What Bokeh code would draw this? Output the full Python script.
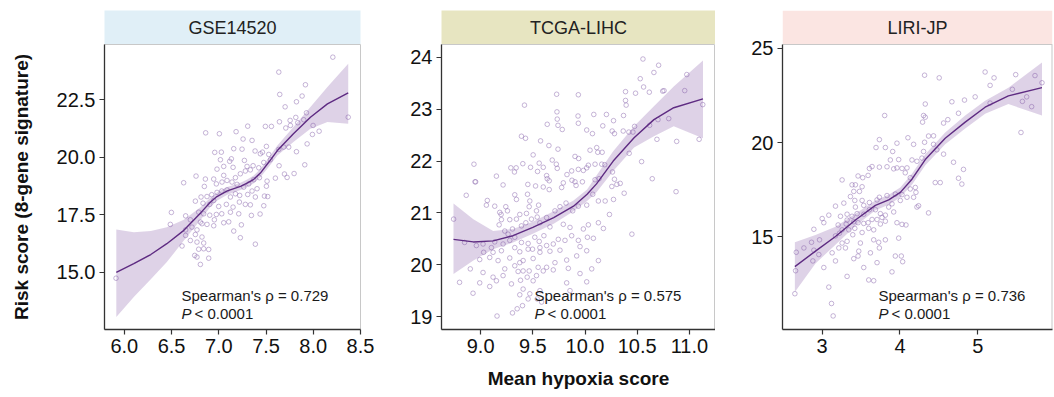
from bokeh.plotting import figure
from bokeh.layouts import row, column
from bokeh.models import FixedTicker, Label, Range1d
from bokeh.core.properties import value
from bokeh.embed import file_html
from bokeh.resources import INLINE

FONT = "Liberation Sans"

# ---------------- data ----------------
cohorts = ["GSE14520", "TCGA-LIHC", "LIRI-JP"]
rho_text = ["Spearman's \u03c1 = 0.729", "Spearman's \u03c1 = 0.575", "Spearman's \u03c1 = 0.736"]
p_text = "< 0.0001"

gse_x = [7.635, 7.917, 7.645, 7.882, 7.822, 7.702, 7.928, 7.815, 7.642, 7.755, 7.836, 7.758, 7.709, 7.899, 7.998,
         8.062, 7.935, 7.991, 7.910, 7.797, 7.695, 7.723, 7.822, 7.740, 7.687, 7.635, 7.599, 7.493, 7.557, 7.306,
         7.183, 7.006, 6.861, 7.257, 7.352, 7.504, 7.462, 7.246, 7.158, 7.027, 6.957, 7.133, 7.115, 7.017, 7.271,
         7.384, 7.440, 7.529, 7.546, 7.638, 7.476, 7.423, 7.363, 7.299, 7.281, 7.334, 7.151, 7.052, 6.981, 7.228,
         7.176, 7.052, 6.946, 6.858, 6.759, 6.628, 6.847, 6.974, 7.034, 7.087, 7.140, 7.193, 7.264, 7.317, 7.370,
         7.430, 7.511, 7.504, 7.405, 7.352, 7.306, 7.221, 7.176, 7.123, 7.087, 7.031, 6.981, 6.925, 6.875, 6.812,
         6.752, 6.833, 6.904, 6.946, 6.999, 7.080, 7.151, 7.218, 7.281, 7.334, 7.387, 7.483, 7.518, 7.476, 7.211,
         7.123, 7.031, 6.974, 6.904, 6.840, 6.787, 6.649, 6.498, 6.699, 6.805, 6.953, 7.052, 7.105, 7.239, 7.345,
         7.437, 6.946, 6.875, 6.822, 6.769, 6.716, 6.649, 6.487, 6.649, 6.752, 6.822, 6.840, 6.769, 6.699, 6.611,
         6.840, 6.893, 6.787, 6.745, 6.769, 6.893, 7.158, 7.228, 7.387, 8.207, 8.370, 5.912, 6.805]
gse_y = [23.71, 23.16, 22.74, 22.67, 22.42, 22.20, 21.94, 21.74, 21.55, 21.61, 21.51, 21.39, 21.28, 21.64, 21.39,
         21.14, 20.59, 21.00, 19.68, 19.30, 19.28, 19.13, 20.25, 20.45, 20.45, 20.35, 19.10, 21.35, 21.35, 21.36,
         21.12, 21.03, 21.07, 20.80, 20.74, 20.48, 20.23, 20.36, 20.38, 20.23, 20.22, 19.94, 19.83, 19.90, 19.87,
         20.28, 20.16, 20.13, 19.90, 19.64, 19.78, 19.55, 19.64, 19.61, 19.41, 19.46, 19.57, 19.61, 19.49, 19.29,
         19.12, 19.22, 19.06, 19.06, 19.19, 18.90, 18.74, 18.85, 18.93, 19.00, 18.93, 18.83, 18.71, 18.85, 19.03,
         19.12, 18.97, 18.75, 18.64, 18.54, 18.39, 18.35, 18.42, 18.28, 18.59, 18.54, 18.48, 18.38, 18.30, 18.28,
         18.10, 18.01, 17.96, 18.13, 17.87, 17.96, 17.84, 18.06, 17.96, 17.94, 18.28, 18.32, 18.30, 17.90, 17.55,
         17.62, 17.55, 17.52, 17.49, 17.55, 17.62, 17.46, 17.61, 17.29, 17.19, 17.29, 17.16, 17.20, 17.07, 17.48,
         17.54, 17.03, 17.09, 17.12, 16.85, 16.97, 16.85, 17.09, 16.61, 16.65, 16.54, 16.28, 16.32, 16.39, 16.15,
         16.03, 16.00, 16.01, 15.74, 15.67, 15.62, 16.80, 16.51, 16.23, 24.36, 21.75, 14.75, 15.35]

tcga_x = [10.555, 10.705, 10.660, 10.529, 10.975, 10.561, 10.616, 10.484, 10.388, 10.744, 10.757, 10.955, 10.388,
          10.394, 11.128, 9.728, 9.936, 9.420, 9.731, 9.734, 9.741, 9.782, 9.638, 9.933, 9.936, 10.084, 10.205,
          10.369, 10.273, 10.170, 10.016, 10.071, 10.260, 10.282, 10.366, 10.420, 10.459, 10.475, 10.619, 10.699,
          10.802, 9.391, 9.430, 9.574, 9.654, 9.741, 9.503, 9.404, 9.561, 9.600, 9.478, 9.686, 9.725, 9.734, 9.289,
          9.340, 9.324, 9.545, 8.936, 8.946, 9.151, 9.215, 9.904, 9.939, 10.048, 10.112, 10.164, 10.122, 10.032,
          10.016, 9.984, 10.096, 10.160, 10.189, 9.827, 9.872, 9.936, 9.632, 9.638, 9.657, 9.792, 9.875, 9.904,
          9.914, 9.975, 10.096, 10.135, 10.263, 10.282, 10.305, 10.257, 10.337, 10.423, 10.542, 10.689, 10.878,
          11.093, 10.644, 9.452, 9.526, 9.600, 9.657, 9.776,
          8.862, 8.952, 9.064, 9.055, 9.135, 9.241, 9.257, 9.183, 9.196, 9.327, 9.343, 9.449, 9.471, 9.465, 9.555,
          9.535, 9.439, 9.375, 9.343, 9.279, 9.199, 9.177, 9.231, 9.263, 9.305, 9.391, 9.433, 9.487, 9.542, 9.568,
          9.632, 9.712, 9.760, 9.818, 9.882, 9.936, 10.016, 10.074, 10.128, 10.193, 10.273, 10.375, 10.872, 10.234,
          10.032, 10.128, 9.984, 9.856, 9.792, 9.664, 9.606, 9.561, 9.519, 9.455, 9.391, 9.327, 9.279, 9.215, 9.135,
          9.103, 9.023, 8.959, 8.846, 8.741, 9.029, 9.087, 9.119, 9.199, 9.279, 9.327, 9.375, 9.455, 9.497, 9.568,
          9.632, 9.696, 9.744, 9.808, 9.872, 9.936, 9.952, 10.023, 10.080, 10.176, 10.449, 9.760, 9.664, 9.568,
          9.503, 9.407, 9.375, 9.327, 9.231, 9.167, 8.991, 8.901, 9.023, 9.119, 9.215, 9.359, 9.407, 9.465, 9.551,
          9.600, 9.632, 9.696, 9.535, 9.503, 9.446, 9.382, 9.295, 9.151, 9.087, 8.991, 8.798, 8.927, 9.824, 9.920,
          10.016, 10.128, 10.064, 9.952, 9.840, 9.712, 9.568, 9.407, 9.455, 9.375, 9.401, 9.350, 9.305, 9.157,
          9.471, 9.542, 9.584, 9.824, 10.016, 9.856]
tcga_y = [23.97, 23.85, 23.71, 23.59, 23.67, 23.43, 23.33, 23.31, 23.34, 23.35, 23.36, 23.36, 23.17, 23.08, 23.09,
          23.29, 23.28, 23.08, 22.95, 22.81, 22.69, 22.61, 22.71, 22.87, 22.73, 22.90, 22.90, 22.88, 22.78, 22.68,
          22.60, 22.53, 22.58, 22.53, 22.58, 22.56, 22.56, 22.67, 22.69, 22.80, 22.82, 22.48, 22.44, 22.39, 22.30,
          22.23, 22.12, 21.95, 21.96, 21.88, 21.88, 22.02, 21.94, 21.86, 21.87, 21.87, 21.79, 21.80, 21.94, 21.60,
          21.71, 21.54, 22.09, 22.05, 22.21, 22.26, 22.17, 22.17, 21.92, 21.87, 21.82, 21.94, 21.94, 21.93, 21.74,
          21.81, 21.84, 21.72, 21.66, 21.62, 21.58, 21.63, 21.60, 21.53, 21.60, 21.64, 21.66, 21.79, 21.65, 21.55,
          21.51, 21.57, 22.15, 21.99, 22.42, 22.38, 22.42, 21.66, 21.55, 21.52, 21.50, 21.45, 21.49,
          21.34, 21.60, 21.24, 21.15, 21.13, 21.12, 21.04, 21.01, 20.97, 21.35, 21.26, 21.36, 21.23, 21.12, 21.15,
          21.04, 20.99, 20.97, 20.88, 20.87, 20.87, 20.77, 20.65, 20.59, 20.69, 20.75, 20.81, 20.88, 20.92, 20.81,
          20.91, 21.04, 21.12, 21.19, 21.04, 21.13, 21.15, 21.36, 21.23, 21.23, 21.26, 21.38, 21.41, 20.97, 20.77,
          20.81, 20.69, 20.72, 20.78, 20.73, 20.56, 20.45, 20.53, 20.41, 20.43, 20.53, 20.47, 20.40, 20.44, 20.33,
          20.40, 20.37, 20.43, 20.88, 20.24, 20.14, 20.24, 20.27, 20.13, 20.33, 20.25, 20.30, 20.30, 20.33, 20.37,
          20.40, 20.49, 20.47, 20.56, 20.47, 20.35, 20.53, 20.51, 20.70, 20.59, 20.28, 20.26, 20.24, 20.12, 20.08,
          20.04, 19.98, 19.92, 20.08, 20.10, 19.92, 19.85, 19.76, 19.79, 19.87, 19.88, 19.88, 19.95, 19.88, 19.95,
          19.90, 19.79, 19.69, 19.76, 19.70, 19.63, 19.69, 19.58, 19.65, 19.66, 19.45, 20.09, 20.17, 20.27, 20.08,
          19.92, 19.83, 19.93, 20.04, 19.50, 19.53, 19.34, 19.42, 19.21, 19.15, 19.07, 19.01, 19.44, 19.34, 19.28,
          19.65, 19.67, 19.50]

liri_x = [4.316, 4.504, 5.094, 5.209, 5.487, 5.735, 5.825, 5.158, 5.444, 5.628, 5.573, 5.692, 5.555, 4.966, 4.829,
          4.667, 5.158, 4.325, 4.303, 4.325, 4.290, 4.560, 4.615, 4.752, 3.803, 4.102, 4.367, 4.431, 4.175, 4.316,
          4.431, 4.474, 4.560, 4.688, 4.816, 4.752, 4.795, 4.453, 4.517, 4.303, 4.282, 4.218, 4.154, 4.090, 4.026,
          4.068, 4.132, 4.197, 4.205, 4.175, 4.218, 4.239, 4.367, 3.735, 3.692, 3.812, 3.906, 3.961, 3.983, 3.876,
          3.919, 3.961, 3.833, 3.735, 3.641, 3.607, 3.590, 3.521, 3.461, 3.427, 3.513, 3.406, 3.363, 3.419, 3.513,
          3.534, 3.607, 3.705, 3.735, 3.833, 3.940, 4.026, 4.132, 4.090, 4.004, 3.897, 3.855, 3.919, 3.812, 3.748,
          3.684, 3.607, 3.534, 3.449, 3.384, 3.320, 3.235, 3.171, 3.278, 3.256, 3.384, 3.479, 3.427, 3.461, 3.534,
          3.590, 3.641, 3.705, 3.769, 3.812, 3.961, 4.026, 4.077, 3.983, 3.748, 3.662, 3.598, 3.513, 3.419, 3.342,
          3.308, 3.205, 3.222, 3.320, 3.256, 3.299, 3.393, 3.491, 3.470, 3.461, 3.406, 3.534, 3.620, 3.662, 3.726,
          3.812, 3.735, 3.705, 3.940, 4.017, 4.034, 3.897, 3.598, 3.662, 3.320, 3.085, 3.120, 3.141, 2.649, 2.658,
          2.667, 2.765, 2.863, 2.966, 2.893, 2.957, 2.880, 3.021, 3.171, 3.128, 3.214, 3.171, 3.256, 3.406, 3.021,
          3.000, 2.893, 3.085, 3.320]
liri_y = [23.58, 23.44, 23.75, 23.44, 23.61, 23.56, 23.18, 23.04, 22.83, 22.43, 22.19, 21.91, 20.54, 22.43, 22.26,
          22.17, 22.10, 22.05, 21.44, 21.35, 21.09, 21.04, 21.22, 21.56, 21.44, 20.26, 20.35, 20.36, 19.91, 20.02,
          19.91, 19.62, 19.39, 18.96, 18.58, 18.11, 17.80, 17.88, 17.88, 19.53, 19.18, 19.01, 19.08, 18.66, 18.63,
          18.40, 18.14, 17.62, 17.36, 17.10, 16.58, 16.65, 16.27, 20.16, 19.74, 19.74, 19.53, 19.97, 19.10, 19.08,
          18.61, 18.66, 18.72, 18.70, 18.73, 18.63, 18.26, 18.14, 18.23, 17.76, 17.66, 17.41, 17.14, 16.93, 16.93,
          16.67, 16.82, 16.96, 17.10, 17.19, 17.27, 17.24, 17.54, 17.10, 16.93, 16.75, 16.58, 16.32, 16.15, 16.23,
          16.44, 16.44, 16.20, 16.23, 16.09, 16.20, 16.09, 16.63, 16.79, 18.02, 17.76, 17.41, 16.58, 15.75, 15.71,
          15.75, 15.92, 15.92, 16.03, 15.83, 15.75, 15.66, 15.63, 14.93, 15.68, 15.37, 15.45, 15.23, 15.45, 15.37,
          15.68, 15.63, 15.19, 14.76, 14.67, 14.41, 15.11, 14.67, 14.24, 13.98, 13.84, 13.37, 14.15, 14.84, 14.71,
          14.84, 14.41, 13.63, 13.98, 13.98, 13.68, 13.14, 12.71, 12.67, 12.90, 12.33, 11.46, 10.80, 11.98, 13.20,
          14.18, 14.41, 14.71, 14.84, 14.29, 14.06, 13.72, 13.37, 13.72, 14.15, 14.41, 15.05, 15.37, 15.80, 15.75,
          15.97, 15.40, 16.15, 15.89]

# fitted smooth (loess) with confidence band
gse_cx = [5.915, 6.10, 6.28, 6.45, 6.63, 6.81, 6.91, 6.98, 7.09, 7.23, 7.30, 7.37, 7.44, 7.53, 7.62, 7.79, 7.97, 8.15, 8.37]
gse_fit = [15.00, 15.38, 15.78, 16.25, 16.83, 17.60, 18.05, 18.30, 18.55, 18.74, 18.88, 19.05, 19.32, 19.80, 20.30, 21.03, 21.75, 22.33, 22.81]
gse_lo = [13.06, 13.93, 14.70, 15.45, 16.39, 17.30, 17.85, 18.12, 18.38, 18.58, 18.72, 18.88, 19.14, 19.60, 20.08, 20.67, 21.25, 21.54, 21.46]
gse_hi = [16.87, 16.75, 16.80, 16.97, 17.29, 17.85, 18.25, 18.48, 18.72, 18.90, 19.04, 19.22, 19.50, 20.00, 20.52, 21.32, 22.19, 23.06, 24.07]

tcga_cx = [8.74, 8.93, 9.12, 9.31, 9.50, 9.70, 9.89, 10.02, 10.11, 10.27, 10.47, 10.66, 10.85, 11.13]
tcga_fit = [20.49, 20.44, 20.46, 20.56, 20.72, 20.91, 21.13, 21.36, 21.56, 22.00, 22.45, 22.80, 23.03, 23.20]
tcga_lo = [19.82, 20.08, 20.30, 20.43, 20.60, 20.79, 21.03, 21.23, 21.40, 21.81, 22.26, 22.48, 22.67, 22.44]
tcga_hi = [21.18, 20.88, 20.65, 20.69, 20.83, 21.03, 21.24, 21.45, 21.72, 22.19, 22.67, 23.06, 23.44, 23.94]

liri_cx = [2.649, 2.914, 3.171, 3.427, 3.684, 3.855, 4.004, 4.154, 4.325, 4.581, 4.838, 5.094, 5.393, 5.825]
liri_fit = [13.42, 14.24, 15.02, 15.89, 16.67, 16.96, 17.36, 18.06, 19.10, 20.23, 21.09, 21.88, 22.48, 22.92]
liri_lo = [12.07, 13.59, 14.58, 15.57, 16.41, 16.70, 17.10, 17.76, 18.80, 19.91, 20.75, 21.53, 22.05, 21.44]
liri_hi = [14.71, 15.10, 15.54, 16.23, 16.93, 17.24, 17.62, 18.35, 19.39, 20.54, 21.44, 22.22, 22.92, 24.26]

gse_xticks = [6.0, 6.5, 7.0, 7.5, 8.0, 8.5]
gse_xlabels = ["6.0", "6.5", "7.0", "7.5", "8.0", "8.5"]
gse_yticks = [15.0, 17.5, 20.0, 22.5]
gse_ylabels = ["15.0", "17.5", "20.0", "22.5"]
tcga_xticks = [9.0, 9.5, 10.0, 10.5, 11.0]
tcga_xlabels = ["9.0", "9.5", "10.0", "10.5", "11.0"]
tcga_yticks = [19, 20, 21, 22, 23, 24]
tcga_ylabels = ["19", "20", "21", "22", "23", "24"]
liri_xticks = [3, 4, 5]
liri_xlabels = ["3", "4", "5"]
liri_yticks = [15, 20, 25]
liri_ylabels = ["15", "20", "25"]

y_title = "Risk score (8-gene signature)"
x_title = "Mean hypoxia score"

# ---------------- styling / layout ----------------
strip_colors = ["#e0eff7", "#e7e5c1", "#fbe5e2"]
PT_COLOR = "#8e6bb0"
LINE_COLOR = "#5e2b82"
BAND_COLOR = "#7b4a9e"
AX_COLOR = "#333333"
BORDER_COLOR = "#c8c8c8"
PLOT_H = 285
STRIP_H = 34
TOP = 10
BOTTOM = 68


def style_axes(p, xt, xl, yt, yl):
    for ax, ticks, labels in ((p.xaxis[0], xt, xl), (p.yaxis[0], yt, yl)):
        ax.ticker = FixedTicker(ticks=ticks)
        ax.major_label_overrides = {t: s for t, s in zip(ticks, labels)}
        ax.axis_line_color = AX_COLOR
        ax.axis_line_width = 1.3
        ax.major_tick_line_color = AX_COLOR
        ax.major_tick_line_width = 1.2
        ax.major_tick_in = 0
        ax.major_tick_out = 5
        ax.minor_tick_line_color = None
        ax.major_label_standoff = 4
        ax.major_label_text_font = FONT
        ax.major_label_text_font_size = "20px"
        ax.major_label_text_color = "#111111"
        ax.axis_label_text_font = FONT
        ax.axis_label_text_font_size = "19px"
        ax.axis_label_text_font_style = "bold"
        ax.axis_label_text_color = "#111111"


def draw_data(p, xs, ys, cx, cfit, clo, chi):
    p.scatter(xs, ys, marker="circle", size=4.6, fill_color=None,
              line_color=PT_COLOR, line_alpha=0.5, line_width=1)
    p.varea(x=cx, y1=clo, y2=chi, fill_color=BAND_COLOR, fill_alpha=0.25)
    p.line(cx, cfit, line_color=LINE_COLOR, line_width=1.4)


def add_annotation(p, i, xr, yr, fw, ann_px):
    x0, x1 = xr
    y0, y1 = yr
    ax_ = x0 + ann_px / fw * (x1 - x0)
    y_line1 = y0 + 34 / PLOT_H * (y1 - y0)
    y_line2 = y0 + 16 / PLOT_H * (y1 - y0)
    p.add_layout(Label(x=ax_, y=y_line1, text=rho_text[i], text_font=FONT,
                       text_font_size="15px", text_baseline="alphabetic",
                       text_color="#1a1a1a"))
    p.add_layout(Label(x=ax_, y=y_line2, text="P", text_font=FONT,
                       text_font_size="15px", text_font_style="italic",
                       text_baseline="alphabetic", text_color="#1a1a1a"))
    p.add_layout(Label(x=ax_, y=y_line2, x_offset=13, text=p_text, text_font=FONT,
                       text_font_size="15px", text_baseline="alphabetic",
                       text_color="#1a1a1a"))


def make_panel(i, xs, ys, cx, cfit, clo, chi, xr, yr, xt, xl, yt, yl,
               left, fw, right, ann_px, ylab=None, xlab=None):
    W = left + fw + right
    strip = figure(width=W, height=TOP + STRIP_H, x_range=(0, 1), y_range=(0, 1),
                   x_axis_type=None, y_axis_type=None, toolbar_location=None,
                   output_backend="svg", min_border_left=left, min_border_right=right,
                   min_border_top=TOP, min_border_bottom=0,
                   background_fill_color=strip_colors[i], border_fill_color="white",
                   outline_line_color=None)
    strip.grid.visible = False
    strip.text(x=[0.5], y=[0.5], text=[cohorts[i]], text_align="center",
               text_baseline="middle", text_font=value(FONT),
               text_font_size="18px", text_color="#222222")

    p = figure(width=W, height=PLOT_H + BOTTOM, x_range=Range1d(*xr), y_range=Range1d(*yr),
               toolbar_location=None, output_backend="svg",
               min_border_left=left, min_border_right=right, min_border_top=0,
               min_border_bottom=BOTTOM, background_fill_color="white",
               border_fill_color="white", outline_line_color=BORDER_COLOR)
    p.grid.visible = False
    draw_data(p, xs, ys, cx, cfit, clo, chi)
    style_axes(p, xt, xl, yt, yl)
    if ylab:
        p.yaxis[0].axis_label = ylab
        p.yaxis[0].axis_label_standoff = 22
    if xlab:
        p.xaxis[0].axis_label = xlab
        p.xaxis[0].axis_label_standoff = 12
    add_annotation(p, i, xr, yr, fw, ann_px)
    return column(strip, p)


def make_panel_merged(i, xs, ys, cx, cfit, clo, chi, xr, yr, xt, xl, yt, yl,
                      left, fw, right, ann_px):
    """Strip drawn inside one figure, so the top tick label has room above the data area."""
    W = left + fw + right
    x0, x1 = xr
    y0, y1 = yr
    y_top = y1 + STRIP_H / PLOT_H * (y1 - y0)
    p = figure(width=W, height=TOP + STRIP_H + PLOT_H + BOTTOM,
               x_range=Range1d(x0, x1), y_range=Range1d(y0, y_top),
               toolbar_location=None, output_backend="svg",
               min_border_left=left, min_border_right=right, min_border_top=TOP,
               min_border_bottom=BOTTOM, background_fill_color="white",
               border_fill_color="white", outline_line_color=None)
    p.grid.visible = False
    p.quad(left=[x0], right=[x1], bottom=[y1], top=[y_top],
           fill_color=strip_colors[i], line_color=None)
    p.line([x0, x1], [y1, y1], line_color=BORDER_COLOR, line_width=1)
    p.line([x1, x1], [y0, y1], line_color=BORDER_COLOR, line_width=2)
    p.text(x=[(x0 + x1) / 2], y=[(y1 + y_top) / 2], text=[cohorts[i]], text_align="center",
           text_baseline="middle", text_font=value(FONT),
           text_font_size="18px", text_color="#222222")
    draw_data(p, xs, ys, cx, cfit, clo, chi)
    style_axes(p, xt, xl, yt, yl)
    p.yaxis[0].bounds = (y0, y1)
    add_annotation(p, i, xr, yr, fw, ann_px)
    return p


c1 = make_panel(0, gse_x, gse_y, gse_cx, gse_fit, gse_lo, gse_hi,
                (5.79, 8.5), (12.52, 24.91), gse_xticks, gse_xlabels, gse_yticks, gse_ylabels,
                104, 256, 16, 77, ylab=y_title)
c2 = make_panel(1, tcga_x, tcga_y, tcga_cx, tcga_fit, tcga_lo, tcga_hi,
                (8.625, 11.25), (18.75, 24.25), tcga_xticks, tcga_xlabels, tcga_yticks, tcga_ylabels,
                65, 274, 0, 93, xlab=x_title)
c3 = make_panel_merged(2, liri_x, liri_y, liri_cx, liri_fit, liri_lo, liri_hi,
                       (2.49, 5.96), (10.08, 25.21), liri_xticks, liri_xlabels, liri_yticks, liri_ylabels,
                       67, 270, 2, 96)

layout = row(c1, c2, c3)
open("out.html", "w").write(file_html(layout, INLINE))
